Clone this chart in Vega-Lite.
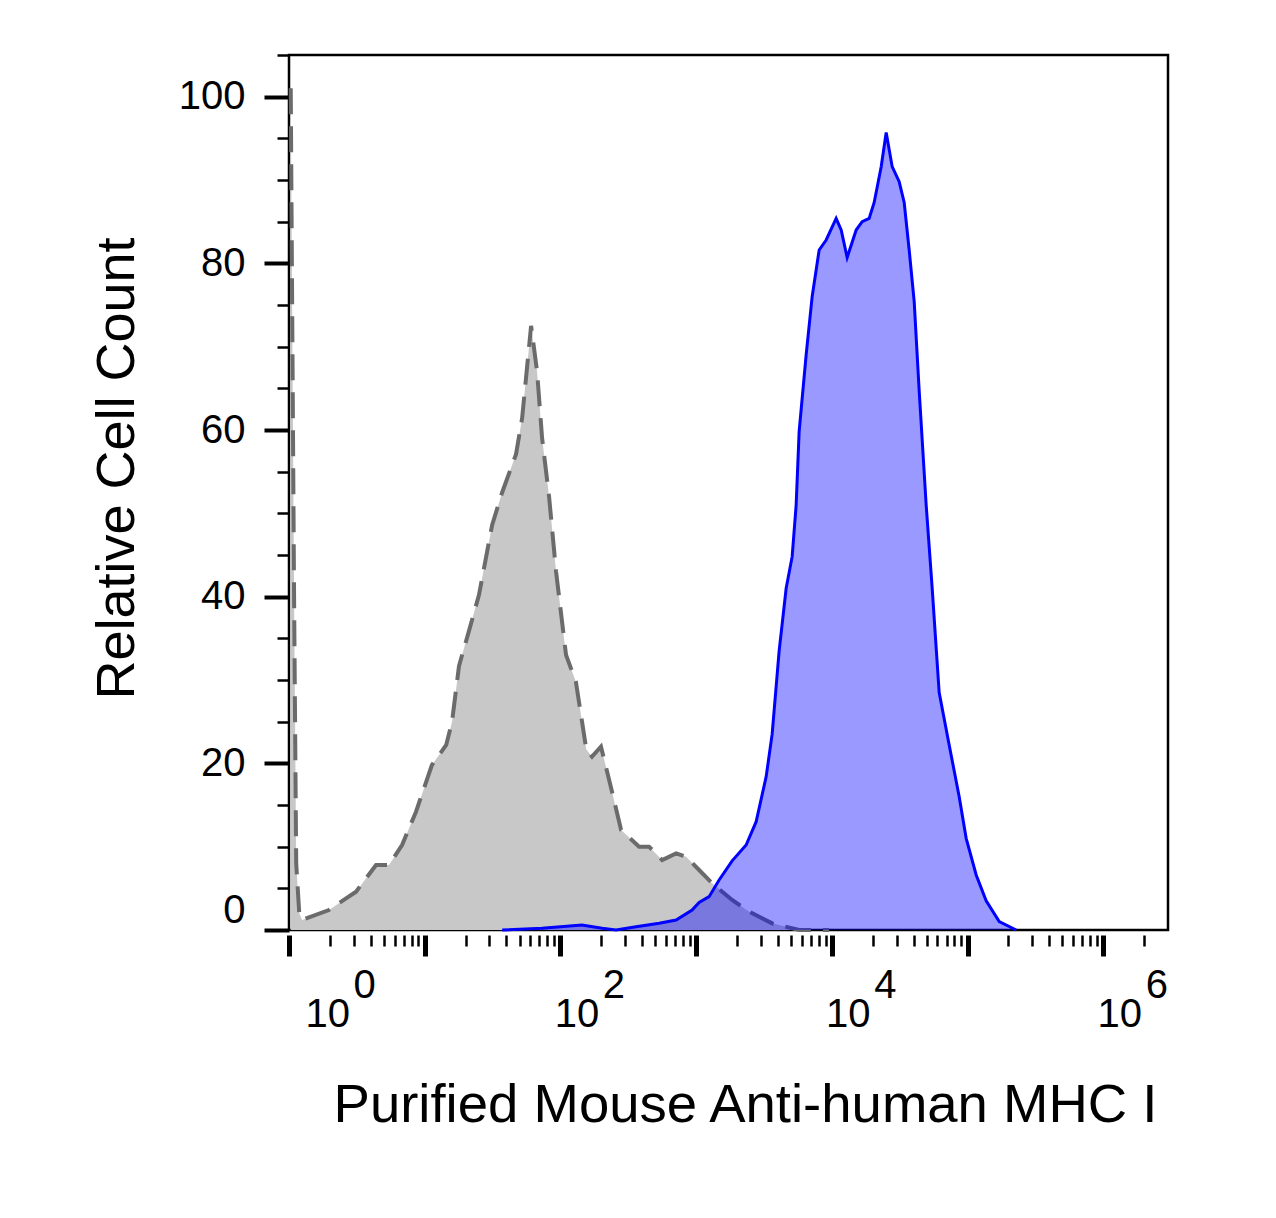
{
  "$schema": "https://vega.github.io/schema/vega-lite/v6.json",
  "width": 879,
  "height": 875,
  "autosize": {"type": "none"},
  "padding": {"left": 289, "top": 55, "right": 108, "bottom": 288},
  "background": "white",
  "config": {
    "view": {"stroke": "black", "strokeWidth": 2.5},
    "font": "Liberation Sans",
    "axis": {"labelFont": "Liberation Sans", "titleFont": "Liberation Sans", "labelColor": "black", "titleColor": "black", "tickColor": "black", "domain": false, "grid": false}
  },
  "datasets": {
    "control": [
      {"intensity": 1.03, "count": 101}, {"intensity": 1.09, "count": 40}, {"intensity": 1.13, "count": 8},
      {"intensity": 1.19, "count": 2}, {"intensity": 1.25, "count": 1.2}, {"intensity": 1.97, "count": 2.4},
      {"intensity": 3.12, "count": 4.6}, {"intensity": 4.38, "count": 7.8}, {"intensity": 5.46, "count": 7.8},
      {"intensity": 6.81, "count": 10.2}, {"intensity": 8.63, "count": 14.2}, {"intensity": 11.3, "count": 19.8},
      {"intensity": 14.4, "count": 22.2}, {"intensity": 15.9, "count": 25}, {"intensity": 17.9, "count": 31.7},
      {"intensity": 21.2, "count": 35.9}, {"intensity": 25.1, "count": 40.2}, {"intensity": 31.4, "count": 48.6},
      {"intensity": 37.2, "count": 52.5}, {"intensity": 47.1, "count": 57.1}, {"intensity": 52.2, "count": 61.4},
      {"intensity": 60.8, "count": 72.5}, {"intensity": 67.3, "count": 67}, {"intensity": 73.3, "count": 59},
      {"intensity": 82.5, "count": 52}, {"intensity": 92.9, "count": 43}, {"intensity": 110, "count": 33},
      {"intensity": 130, "count": 29.8}, {"intensity": 155, "count": 21.7}, {"intensity": 171, "count": 20.8},
      {"intensity": 199, "count": 22}, {"intensity": 240, "count": 16.6}, {"intensity": 280, "count": 12},
      {"intensity": 380, "count": 10}, {"intensity": 450, "count": 10}, {"intensity": 562, "count": 8.4},
      {"intensity": 712, "count": 9.2}, {"intensity": 844, "count": 8.8}, {"intensity": 1052, "count": 7.2},
      {"intensity": 1312, "count": 5.6}, {"intensity": 1842, "count": 3.6}, {"intensity": 2459, "count": 2.2},
      {"intensity": 3632, "count": 0.8}, {"intensity": 5742, "count": 0}, {"intensity": 9555, "count": 0}
    ],
    "mhc": [
      {"intensity": 37.2, "count": 0}, {"intensity": 73.3, "count": 0.2}, {"intensity": 144, "count": 0.6},
      {"intensity": 203, "count": 0.2}, {"intensity": 257, "count": 0}, {"intensity": 361, "count": 0.4},
      {"intensity": 534, "count": 0.8}, {"intensity": 712, "count": 1.2}, {"intensity": 934, "count": 2.4},
      {"intensity": 1052, "count": 3.3}, {"intensity": 1246, "count": 4}, {"intensity": 1477, "count": 6},
      {"intensity": 1842, "count": 8.3}, {"intensity": 2336, "count": 10.2}, {"intensity": 2769, "count": 13},
      {"intensity": 3281, "count": 18.4}, {"intensity": 3632, "count": 23.5}, {"intensity": 4090, "count": 33.5},
      {"intensity": 4607, "count": 41}, {"intensity": 5100, "count": 44.8}, {"intensity": 5458, "count": 51},
      {"intensity": 5742, "count": 59.8}, {"intensity": 6466, "count": 69}, {"intensity": 7160, "count": 76},
      {"intensity": 8064, "count": 81.6}, {"intensity": 9082, "count": 82.8}, {"intensity": 10760, "count": 85.4},
      {"intensity": 11720, "count": 84}, {"intensity": 12970, "count": 80.7}, {"intensity": 15110, "count": 84},
      {"intensity": 16730, "count": 85}, {"intensity": 18840, "count": 85.4}, {"intensity": 20510, "count": 87.3},
      {"intensity": 23100, "count": 91.6}, {"intensity": 25150, "count": 95.7}, {"intensity": 27840, "count": 91.6},
      {"intensity": 31350, "count": 89.8}, {"intensity": 34130, "count": 87.3}, {"intensity": 37150, "count": 81.6},
      {"intensity": 40450, "count": 75.4}, {"intensity": 44020, "count": 64.7}, {"intensity": 49570, "count": 51},
      {"intensity": 54890, "count": 41}, {"intensity": 61800, "count": 28.5}, {"intensity": 73240, "count": 22.2},
      {"intensity": 86790, "count": 16}, {"intensity": 97720, "count": 11}, {"intensity": 115800, "count": 6.6},
      {"intensity": 137200, "count": 3.5}, {"intensity": 171200, "count": 1}, {"intensity": 228400, "count": 0}
    ]
  },
  "resolve": {"axis": {"x": "independent", "y": "independent"}},
  "layer": [
    {
      "data": {"name": "control"},
      "mark": {"type": "area", "color": "#c8c8c8", "interpolate": "linear"},
      "encoding": {
        "x": {
          "field": "intensity",
          "type": "quantitative",
          "scale": {"type": "log", "domain": [1, 3000000], "nice": false},
          "axis": {
            "orient": "bottom",
            "title": "Purified Mouse Anti-human MHC I",
            "titleFontSize": 54.5,
            "titleFontWeight": "normal",
            "titleAlign": "center",
            "titleBaseline": "alphabetic",
            "titleX": 456,
            "titleY": 186,
            "offset": 5,
            "values": [1, 10, 100, 1000, 10000, 100000, 1000000],
            "labelExpr": "indexof([1, 100, 10000, 1000000], datum.value) >= 0 ? '10' : ''",
            "labelFontSize": 40,
            "labelBaseline": "top",
            "labelPadding": 38,
            "labelOffset": 16,
            "labelFlush": true,
            "labelOverlap": false,
            "labelBound": false,
            "tickSize": 21,
            "tickWidth": 5
          }
        },
        "y": {
          "field": "count",
          "type": "quantitative",
          "scale": {"domain": [0, 105], "nice": false, "zero": false},
          "axis": {
            "orient": "left",
            "title": "Relative Cell Count",
            "titleFontSize": 54,
            "titleFontWeight": "normal",
            "titleAngle": -90,
            "titleAlign": "center",
            "titleBaseline": "alphabetic",
            "titleX": -156,
            "titleY": 413,
            "values": [0, 20, 40, 60, 80, 100],
            "labelFontSize": 40,
            "labelPadding": 19,
            "labelFlush": true,
            "labelOverlap": false,
            "tickSize": 25,
            "tickWidth": 4
          }
        }
      }
    },
    {
      "data": {"name": "control"},
      "mark": {"type": "line", "color": "#6b6b6b", "strokeWidth": 4, "strokeDash": [26, 12], "interpolate": "linear"},
      "encoding": {
        "x": {
          "field": "intensity",
          "type": "quantitative",
          "scale": {"type": "log", "domain": [1, 3000000], "nice": false},
          "axis": {
            "orient": "bottom",
            "title": null,
            "offset": 5,
            "values": [2, 3, 4, 5, 6, 7, 8, 9, 20, 30, 40, 50, 60, 70, 80, 90, 200, 300, 400, 500, 600, 700, 800, 900, 2000, 3000, 4000, 5000, 6000, 7000, 8000, 9000, 20000, 30000, 40000, 50000, 60000, 70000, 80000, 90000, 200000, 300000, 400000, 500000, 600000, 700000, 800000, 900000, 2000000],
            "labels": false,
            "tickSize": 11,
            "tickWidth": 2.5
          }
        },
        "y": {
          "field": "count",
          "type": "quantitative",
          "scale": {"domain": [0, 105], "nice": false, "zero": false},
          "axis": {
            "orient": "left",
            "title": null,
            "values": [5, 10, 15, 25, 30, 35, 45, 50, 55, 65, 70, 75, 85, 90, 95, 105],
            "labels": false,
            "tickSize": 12,
            "tickWidth": 2.5
          }
        }
      }
    },
    {
      "data": {"name": "mhc"},
      "mark": {"type": "area", "color": "#0000ff", "fillOpacity": 0.4, "interpolate": "linear"},
      "encoding": {
        "x": {
          "field": "intensity",
          "type": "quantitative",
          "scale": {"type": "log", "domain": [1, 3000000], "nice": false},
          "axis": {
            "orient": "bottom",
            "title": null,
            "offset": 5,
            "ticks": false,
            "tickSize": 0,
            "values": [1, 100, 10000, 1000000],
            "labelExpr": "format(round(log(datum.value) / LN10), 'd')",
            "labelFontSize": 40,
            "labelBaseline": "top",
            "labelPadding": 30,
            "labelOffset": 53,
            "labelFlush": true,
            "labelFlushOffset": -11,
            "labelOverlap": false,
            "labelBound": false
          }
        },
        "y": {"field": "count", "type": "quantitative", "scale": {"domain": [0, 105], "nice": false, "zero": false}, "axis": null}
      }
    },
    {
      "data": {"name": "mhc"},
      "mark": {"type": "line", "color": "#0000ff", "strokeWidth": 3, "interpolate": "linear"},
      "encoding": {
        "x": {"field": "intensity", "type": "quantitative", "scale": {"type": "log", "domain": [1, 3000000], "nice": false}, "axis": null},
        "y": {"field": "count", "type": "quantitative", "scale": {"domain": [0, 105], "nice": false, "zero": false}, "axis": null}
      }
    }
  ]
}
